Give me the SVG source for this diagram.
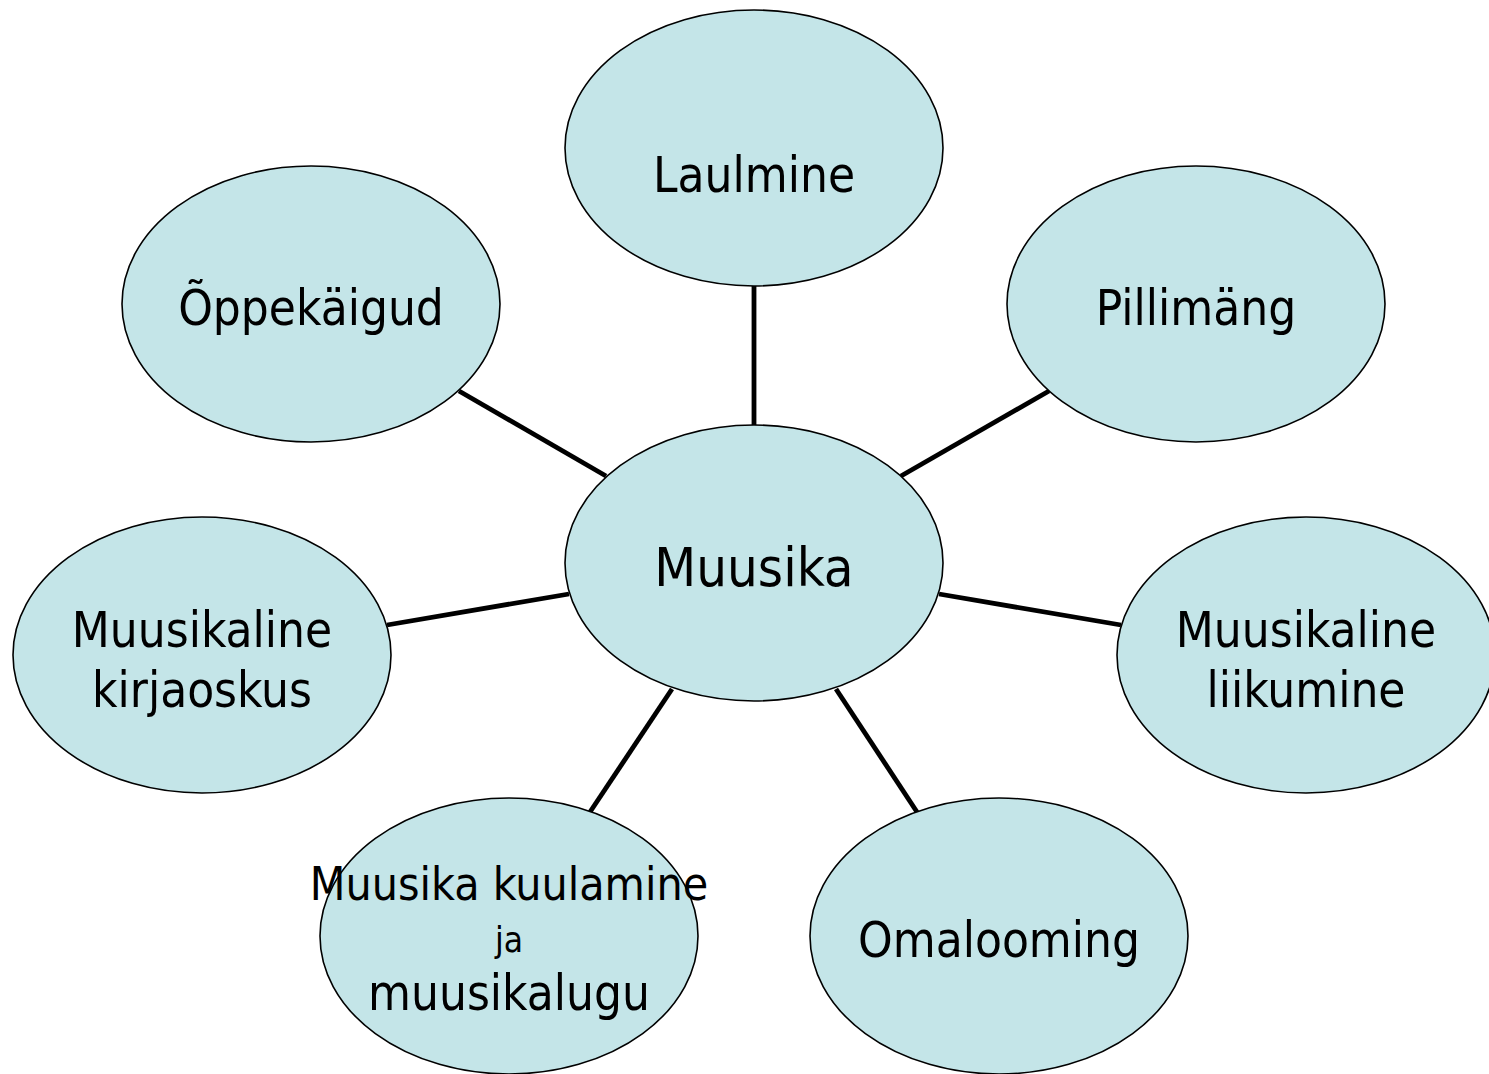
<svg xmlns="http://www.w3.org/2000/svg" width="1489" height="1074" viewBox="0 0 1489 1074">
<style>
.node ellipse{fill:#C4E5E8;stroke:#000;stroke-width:1.6}
.node text{font-family:"DejaVu Sans Condensed","DejaVu Sans",sans-serif;font-size:49px;fill:#000;text-anchor:middle}
#connectors line{stroke:#000;stroke-width:4.8}
</style>
<rect width="1489" height="1074" fill="#fff"/>
<g id="connectors">
<line x1="754" y1="286" x2="754" y2="425"/>
<line x1="459" y1="391" x2="606" y2="476"/>
<line x1="1049" y1="391" x2="901" y2="476"/>
<line x1="387" y1="625" x2="569" y2="594"/>
<line x1="939" y1="594" x2="1121" y2="625"/>
<line x1="672" y1="689" x2="590" y2="812"/>
<line x1="836" y1="689" x2="917" y2="812"/>
</g>
<g id="laulmine" class="node"><ellipse cx="754" cy="148" rx="189" ry="138"/><text x="754" y="192">Laulmine</text></g>
<g id="oppekaigud" class="node"><ellipse cx="311" cy="304" rx="189" ry="138"/><text x="311" y="325">Õppekäigud</text></g>
<g id="pillimang" class="node"><ellipse cx="1196" cy="304" rx="189" ry="138"/><text x="1196" y="325">Pillimäng</text></g>
<g id="muusika" class="node"><ellipse cx="754" cy="563" rx="189" ry="138"/><text x="754" y="586" style="font-size:54px">Muusika</text></g>
<g id="kirjaoskus" class="node"><ellipse cx="202" cy="655" rx="189" ry="138"/><text x="202" y="647">Muusikaline</text><text x="202" y="707">kirjaoskus</text></g>
<g id="liikumine" class="node"><ellipse cx="1306" cy="655" rx="189" ry="138"/><text x="1306" y="647">Muusikaline</text><text x="1306" y="707">liikumine</text></g>
<g id="kuulamine" class="node"><ellipse cx="509" cy="936" rx="189" ry="138"/><text x="509" y="900" style="font-size:46px">Muusika kuulamine</text><text x="509" y="952" style="font-size:35px">ja</text><text x="509" y="1010">muusikalugu</text></g>
<g id="omalooming" class="node"><ellipse cx="999" cy="936" rx="189" ry="138"/><text x="999" y="957">Omalooming</text></g>
</svg>
